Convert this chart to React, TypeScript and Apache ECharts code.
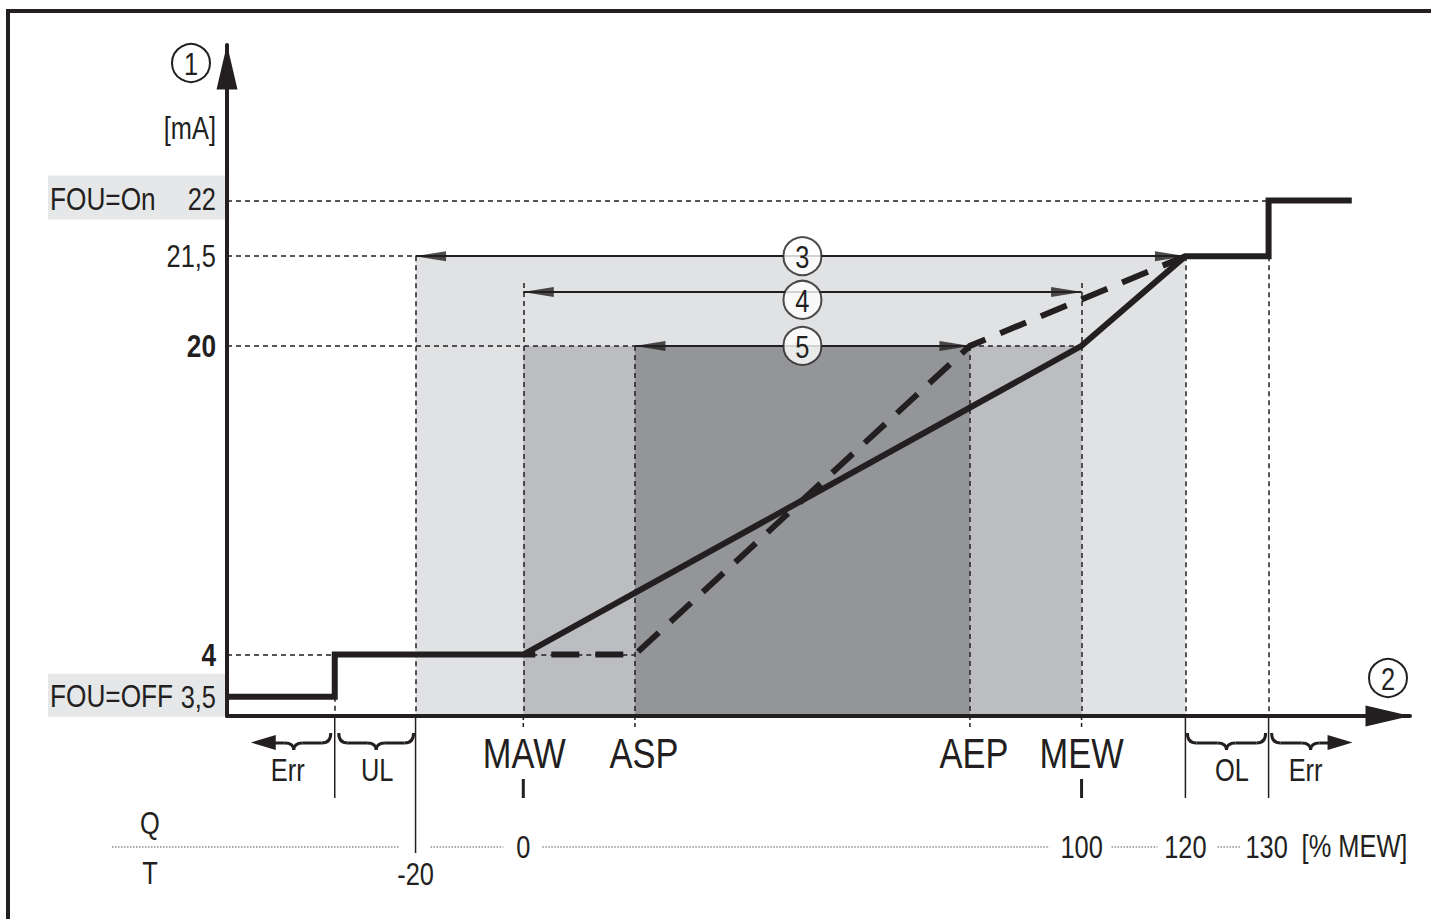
import React, { useEffect, useRef } from 'react';
import * as echarts from 'echarts';

// ---------------- data (x in % of MEW, y in mA) ----------------
const X_TICK_VALUES = [-20, 0, 100, 120, 130];
const X_TICK_LABELS = ['-20', '0', '100', '120', '130'];
const X_MARK_VALUES = [0, 20, 80, 100];
const X_MARK_LABELS = ['MAW', 'ASP', 'AEP', 'MEW'];
const Y_TICK_VALUES = [3.5, 4, 20, 21.5, 22];
const Y_TICK_LABELS = ['3,5', '4', '20', '21,5', '22'];
const Y_TICK_BOLD = [false, true, true, false, false];

const ERR_LOW_LIMIT = -35;
const X_AXIS_RANGE = [-55, 147];
const Y_AXIS_RANGE = [3.27, 23.4];

const SOLID_X = [-55, -35, -35, 0, 100, 120, 130, 130, 140];
const SOLID_Y = [3.5, 3.5, 4, 4, 20, 21.5, 21.5, 22, 22];
const DASHED_X = [0, 20, 80, 120];
const DASHED_Y = [4, 4, 20, 21.5];

const ZONE_FROM = [-20, 0, 20];
const ZONE_TO = [120, 100, 80];
const ZONE_TOP = [21.5, 20, 20];

const RANGE_FROM = [-20, 0, 20];
const RANGE_TO = [120, 100, 80];
const RANGE_LEVEL = [21.5, 20.9, 20];
const RANGE_LABEL = ['3', '4', '5'];
const RANGE_LABEL_LEVEL = [21.5, 20.77, 20];
const RANGE_LABEL_X = 50;

const GUIDE_H_LEVEL = [22, 21.5, 20, 20, 4, 4];
const GUIDE_H_FROM = [-55, -55, -55, 80, -55, 0];
const GUIDE_H_TO = [130, -20, 20, 100, -35, 20];
const GUIDE_V_X = [-35, -20, 0, 20, 80, 100, 120, 130];
const GUIDE_V_TOP = [3.5, 21.5, 21.05, 20, 20, 21.05, 21.5, 21.5];

// schematic (non-linear) scale of the drawing
const X_SCALE_PCT = [-20, 0, 100, 120, 130];
const X_SCALE_POS = [-19.3, 0, 100, 118.6, 133.5];
const Y_SCALE_MA = [3.5, 4, 20, 21.5, 22];
const Y_SCALE_POS = [1.82, 4, 20, 24.65, 27.53];

// ---------------- styles ----------------
const FONT = '"Liberation Sans", Arial, sans-serif';
const NARROW = 0.82;
const INK = '#231f20';
const ZONE_COLORS = ['#e1e2e4', '#bcbdc0', '#939598'];
const BOX_GRAY = '#e6e7e8';
const MARK_LABEL_SHIFT = [1, 9, 4, 0];

function interp(v: number, from: number[], to: number[]): number {
  const n = from.length;
  let i = 0;
  if (v >= from[n - 1]) i = n - 2;
  else if (v > from[0]) {
    while (i < n - 2 && v > from[i + 1]) i++;
  }
  const t = (v - from[i]) / (from[i + 1] - from[i]);
  return to[i] + t * (to[i + 1] - to[i]);
}
const wx = (p: number) => interp(p, X_SCALE_PCT, X_SCALE_POS);
const wy = (m: number) => interp(m, Y_SCALE_MA, Y_SCALE_POS);
const pt = (x: number, y: number) => [wx(x), wy(y)];

function buildOption(): any {
  const yMin = wy(Y_AXIS_RANGE[0]);
  const guides: any[] = [];
  GUIDE_H_LEVEL.forEach((lv, i) => {
    guides.push({ coords: [pt(GUIDE_H_FROM[i], lv), pt(GUIDE_H_TO[i], lv)] });
  });
  GUIDE_V_X.forEach((x, i) => {
    guides.push({ coords: [pt(x, GUIDE_V_TOP[i]), [wx(x), yMin]] });
  });
  const arrows = RANGE_FROM.map((f, i) => ({
    coords: [pt(f, RANGE_LEVEL[i]), pt(RANGE_TO[i], RANGE_LEVEL[i])],
  }));
  const axisLineStyle = {
    onZero: false,
    lineStyle: { color: INK, width: 4 },
    symbol: ['none', 'triangle'],
    symbolSize: [21, 45],
    symbolOffset: [0, -22],
  };
  return {
    animation: false,
    textStyle: { fontFamily: FONT },
    grid: { left: 227, right: 21, top: 45, bottom: 203, containLabel: false, outerBoundsMode: 'none' },
    xAxis: {
      type: 'value',
      min: wx(X_AXIS_RANGE[0]),
      max: wx(X_AXIS_RANGE[1]),
      z: 10,
      axisLine: axisLineStyle,
      axisTick: { show: false },
      splitLine: { show: false },
      axisLabel: { show: false },
    },
    yAxis: {
      type: 'value',
      min: wy(Y_AXIS_RANGE[0]),
      max: wy(Y_AXIS_RANGE[1]),
      z: 10,
      axisLine: axisLineStyle,
      axisTick: { show: false },
      splitLine: { show: false },
      axisLabel: { show: false },
    },
    series: [
      {
        type: 'line',
        z: 1,
        data: [],
        silent: true,
        markArea: {
          silent: true,
          label: { show: false },
          data: ZONE_FROM.map((f, i) => [
            { coord: [wx(f), yMin], itemStyle: { color: ZONE_COLORS[i], opacity: 1, borderWidth: 0 } },
            { coord: [wx(ZONE_TO[i]), wy(ZONE_TOP[i])] },
          ]),
        },
      },
      {
        type: 'lines',
        coordinateSystem: 'cartesian2d',
        z: 2,
        silent: true,
        lineStyle: { color: INK, width: 1.5, type: [5, 4], opacity: 1 },
        data: guides,
      },
      {
        type: 'lines',
        coordinateSystem: 'cartesian2d',
        z: 3,
        silent: true,
        lineStyle: { color: INK, width: 2.2, type: 'solid', opacity: 1 },
        data: arrows,
      },
      {
        type: 'line',
        z: 5,
        silent: true,
        symbol: 'none',
        lineStyle: { color: INK, width: 6, type: [28, 16], dashOffset: 16, cap: 'butt', join: 'miter' },
        data: DASHED_X.map((x, i) => pt(x, DASHED_Y[i])),
      },
      {
        type: 'line',
        z: 6,
        silent: true,
        symbol: 'none',
        lineStyle: { color: INK, width: 6, cap: 'butt', join: 'miter' },
        data: SOLID_X.map((x, i) => pt(x, SOLID_Y[i])),
      },
      {
        type: 'scatter',
        z: 7,
        silent: true,
        symbol: 'triangle',
        symbolSize: [10, 31],
        symbolRotate: 90,
        symbolOffset: [15, 0],
        itemStyle: { color: INK },
        data: RANGE_FROM.map((f, i) => pt(f, RANGE_LEVEL[i])),
      },
      {
        type: 'scatter',
        z: 7,
        silent: true,
        symbol: 'triangle',
        symbolSize: [10, 31],
        symbolRotate: -90,
        symbolOffset: [-15, 0],
        itemStyle: { color: INK },
        data: RANGE_TO.map((t, i) => pt(t, RANGE_LEVEL[i])),
      },
      {
        type: 'scatter',
        z: 8,
        silent: true,
        symbol: 'circle',
        symbolSize: 38,
        itemStyle: { color: '#ffffff', borderColor: INK, borderWidth: 2 },
        label: { show: false },
        data: RANGE_LABEL.map((_, i) => pt(RANGE_LABEL_X, RANGE_LABEL_LEVEL[i])),
      },
    ],
  };
}

function txt(text: string, x: number, y: number, size: number, align = 'center', weight = 'normal'): any {
  return {
    type: 'text',
    z: 20,
    silent: true,
    x,
    y,
    scaleX: NARROW,
    style: {
      text,
      x: 0,
      y: 0,
      fill: INK,
      fontSize: size,
      fontFamily: FONT,
      fontWeight: weight,
      align,
      textAlign: align,
      verticalAlign: 'middle',
      textVerticalAlign: 'middle',
    },
  };
}
function ln(x1: number, y1: number, x2: number, y2: number, w: number, dash?: number[], color = INK): any {
  return {
    type: 'line',
    z: 15,
    silent: true,
    shape: { x1, y1, x2, y2 },
    style: { stroke: color, lineWidth: w, lineDash: dash || null, fill: 'none' },
  };
}
function qb(x1: number, y1: number, cx: number, cy: number, x2: number, y2: number): any {
  return {
    type: 'bezierCurve',
    z: 15,
    silent: true,
    shape: { x1, y1, x2, y2, cpx1: cx, cpy1: cy },
    style: { stroke: INK, lineWidth: 3, fill: 'none' },
  };
}
function circ(cx: number, cy: number, label: string): any[] {
  return [
    { type: 'circle', z: 16, silent: true, shape: { cx, cy, r: 19 }, style: { fill: '#fff', stroke: INK, lineWidth: 2 } },
    txt(label, cx, cy + 1, 31),
  ];
}

function buildGraphic(chart: any): any[] {
  const px = (v: number) => chart.convertToPixel({ xAxisIndex: 0 }, wx(v)) as number;
  const py = (m: number) => chart.convertToPixel({ yAxisIndex: 0 }, wy(m)) as number;
  const ax = px(X_AXIS_RANGE[0]);
  const ar = px(X_AXIS_RANGE[1]);
  const ay = py(Y_AXIS_RANGE[0]);
  const at = py(Y_AXIS_RANGE[1]);
  const els: any[] = [];

  // frame
  els.push({ type: 'rect', z: -10, silent: true, shape: { x: 8, y: 11, width: 1500, height: 1000 }, style: { fill: 'none', stroke: INK, lineWidth: 4 } });

  // FOU boxes
  els.push({ type: 'rect', z: -5, silent: true, shape: { x: ax - 179, y: py(22) - 25, width: 177, height: 44 }, style: { fill: BOX_GRAY } });
  els.push({ type: 'rect', z: -5, silent: true, shape: { x: ax - 179, y: py(3.5) - 23, width: 177, height: 43 }, style: { fill: BOX_GRAY } });
  els.push(txt('FOU=On', ax - 177, py(22) - 2, 32, 'left'));
  els.push(txt('FOU=OFF', ax - 177, py(3.5) - 1, 32, 'left'));

  // y tick labels
  Y_TICK_VALUES.forEach((v, i) => {
    els.push(txt(Y_TICK_LABELS[i], ax - 11, py(v) - (v === 22 ? 2 : 0), Y_TICK_BOLD[i] ? 32 : 31, 'right', Y_TICK_BOLD[i] ? 'bold' : 'normal'));
  });
  // x mark labels
  X_MARK_VALUES.forEach((v, i) => {
    els.push(txt(X_MARK_LABELS[i], px(v) + MARK_LABEL_SHIFT[i], ay + 37, 42));
  });

  // range labels 3,4,5
  RANGE_LABEL.forEach((l, i) => {
    els.push(txt(l, px(RANGE_LABEL_X), py(RANGE_LABEL_LEVEL[i]) + 1, 31));
  });

  // axis decorations
  els.push(...circ(ax - 36, at + 18, '1'));
  els.push(txt('[mA]', ax - 11, at + 83, 31, 'right'));
  els.push(...circ(ar - 22, ay - 38, '2'));

  // below-axis stubs
  X_MARK_VALUES.forEach((v) => els.push(ln(px(v), ay, px(v), ay + 11, 1.5, [4, 3])));
  [0, 100].forEach((v) => els.push(ln(px(v), ay + 63, px(v), ay + 82, 3)));
  [ERR_LOW_LIMIT, 120, 130].forEach((v) => els.push(ln(px(v), ay + 1, px(v), ay + 82, 1.5)));
  els.push(ln(px(-20), ay + 1, px(-20), ay + 137, 1.5));

  // braces
  const yTop = ay + 17;
  const yMid = ay + 27;
  const yTip = ay + 34;
  const r = 9;
  const fullBrace = (x0: number, x1: number) => {
    const xm = (x0 + x1) / 2;
    els.push(qb(x0, yTop, x0, yMid, x0 + r, yMid));
    els.push(ln(x0 + r, yMid, xm - r, yMid, 3));
    els.push(qb(xm - r, yMid, xm, yMid, xm, yTip));
    els.push(qb(xm, yTip, xm, yMid, xm + r, yMid));
    els.push(ln(xm + r, yMid, x1 - r, yMid, 3));
    els.push(qb(x1 - r, yMid, x1, yMid, x1, yTop));
  };
  const arrowBrace = (xc: number, xm: number, xTip: number) => {
    const s = Math.sign(xTip - xc);
    els.push(qb(xc, yTop, xc, yMid, xc + s * r, yMid));
    els.push(ln(xc + s * r, yMid, xm - s * r, yMid, 3));
    els.push(qb(xm - s * r, yMid, xm, yMid, xm, yTip));
    els.push(qb(xm, yTip, xm, yMid, xm + s * r, yMid));
    els.push(ln(xm + s * r, yMid, xTip - s * 22, yMid, 3));
    els.push({
      type: 'polygon',
      z: 15,
      silent: true,
      shape: { points: [[xTip, yMid - 0.5], [xTip - s * 25, yMid - 8], [xTip - s * 25, yMid + 7]] },
      style: { fill: INK },
    });
  };
  const xe = px(ERR_LOW_LIMIT);
  arrowBrace(xe - 4, xe - 41, xe - 84);
  fullBrace(xe + 4, px(-20) - 2);
  fullBrace(px(120) + 2, px(130) - 3);
  arrowBrace(px(130) + 3, px(130) + 42, px(130) + 84);
  els.push(txt('Err', xe - 47, ay + 54, 31));
  els.push(txt('UL', (xe + px(-20)) / 2 + 2, ay + 54, 31));
  els.push(txt('OL', (px(120) + px(130)) / 2 + 5, ay + 54, 31));
  els.push(txt('Err', px(130) + 37, ay + 54, 31));

  // Q / T scale row
  const rowY = ay + 131;
  const dot = [1.5, 1.5];
  const gray = '#8c8c8c';
  els.push(ln(ax - 115, rowY, px(-20) - 17, rowY, 1.5, dot, gray));
  els.push(ln(px(-20) + 15, rowY, px(0) - 20, rowY, 1.5, dot, gray));
  els.push(ln(px(0) + 19, rowY, px(100) - 32, rowY, 1.5, dot, gray));
  els.push(ln(px(100) + 30, rowY, px(120) - 28, rowY, 1.5, dot, gray));
  els.push(ln(px(120) + 32, rowY, px(130) - 28, rowY, 1.5, dot, gray));
  els.push(txt('Q', ax - 77, ay + 107, 31));
  els.push(txt('T', ax - 77, ay + 157, 31));
  X_TICK_VALUES.forEach((v, i) => {
    if (v === -20) els.push(txt(X_TICK_LABELS[i], px(v), ay + 158, 31));
    else els.push(txt(X_TICK_LABELS[i], px(v) - (v === 130 ? 2 : 0), rowY, 31));
  });
  els.push(txt('[% MEW]', px(130) + 33, rowY - 1, 31, 'left'));
  return els;
}

export default function App() {
  const ref = useRef<HTMLDivElement>(null);
  useEffect(() => {
    const el = ref.current as HTMLDivElement;
    const chart = echarts.init(el, null, { renderer: 'svg' });
    chart.setOption(buildOption());
    chart.setOption({ graphic: { elements: buildGraphic(chart) } });
    return () => chart.dispose();
  }, []);
  return (
    <div
      ref={ref}
      style={{ position: 'absolute', left: 0, top: 0, width: 1431, height: 919, background: '#ffffff', overflow: 'hidden' }}
    />
  );
}
